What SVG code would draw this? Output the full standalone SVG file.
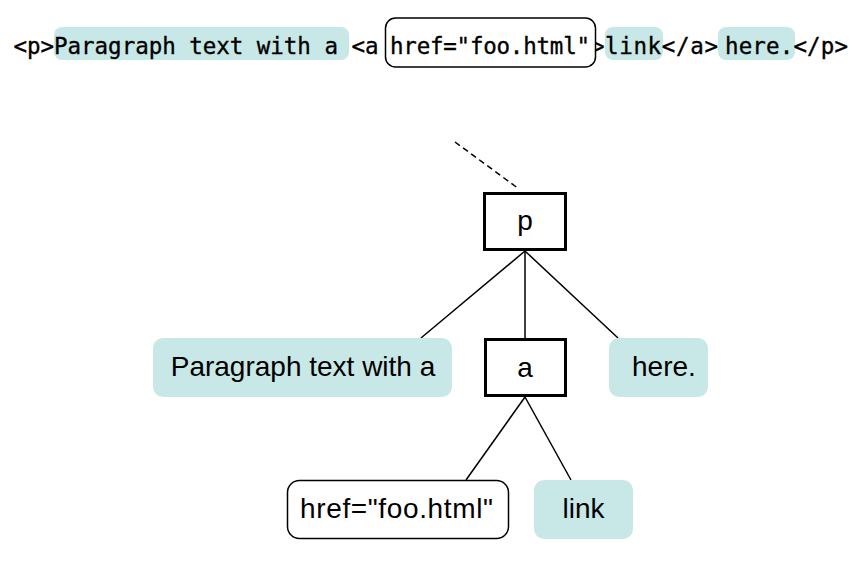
<svg xmlns="http://www.w3.org/2000/svg" width="860" height="578" viewBox="0 0 860 578">
<style>
.hl{fill:#c8e8e7}
.code{font-family:"DejaVu Sans Mono","Liberation Mono",monospace;font-size:22.5px;fill:#000;stroke:#000;stroke-width:0.35}
.lbl{font-family:"Liberation Sans",Arial,sans-serif;font-size:28px;fill:#000}
.el{fill:#fff;stroke:#000;stroke-width:3}
.attr{fill:#fff;stroke:#000;stroke-width:1.5}
.edge{stroke:#000;stroke-width:1.5;fill:none}
</style>
<rect width="860" height="578" fill="#fff"/>
<g id="source">
<rect class="hl" x="54" y="27" width="295" height="33" rx="8"/>
<rect class="hl" x="605" y="27" width="58" height="33" rx="8"/>
<rect class="hl" x="718" y="27" width="77" height="33" rx="8"/>
<text class="code" x="13.5" y="54" textLength="365" lengthAdjust="spacing">&lt;p&gt;Paragraph text with a &lt;a</text>
<text class="code" x="592.5" y="54" textLength="12" lengthAdjust="spacingAndGlyphs">&gt;</text>
<rect class="attr" x="385.5" y="18" width="210" height="49" rx="10"/>
<text class="code" x="390" y="54" textLength="200" lengthAdjust="spacing">href="foo.html"</text>
<text class="code" x="605" y="54" textLength="113" lengthAdjust="spacing">link&lt;/a&gt;</text>
<text class="code" x="725" y="54" textLength="123" lengthAdjust="spacing">here.&lt;/p&gt;</text>
</g>
<g id="connectors">
<line class="edge" x1="455" y1="142" x2="519" y2="189" stroke-dasharray="6,4"/>
<line class="edge" x1="525" y1="251" x2="421" y2="338"/>
<line class="edge" x1="525" y1="251" x2="525" y2="338"/>
<line class="edge" x1="525" y1="251" x2="618" y2="338"/>
<line class="edge" x1="525" y1="397" x2="466" y2="480"/>
<line class="edge" x1="525" y1="397" x2="571" y2="480"/>
</g>
<g id="node-p">
<rect class="el" x="484.5" y="193.5" width="81" height="56"/>
<text class="lbl" x="525" y="230" text-anchor="middle">p</text>
</g>
<g id="node-para-text">
<rect class="hl" x="153" y="338" width="299" height="59" rx="10"/>
<text class="lbl" x="303" y="376" text-anchor="middle">Paragraph text with a</text>
</g>
<g id="node-a">
<rect class="el" x="485.5" y="339.5" width="80" height="56"/>
<text class="lbl" x="525" y="377" text-anchor="middle">a</text>
</g>
<g id="node-here">
<rect class="hl" x="609" y="338" width="99" height="59" rx="10"/>
<text class="lbl" x="632" y="376">here.</text>
</g>
<g id="node-href">
<rect class="attr" x="287.5" y="480.5" width="221" height="58" rx="12"/>
<text class="lbl" x="300" y="518" textLength="193" lengthAdjust="spacing">href="foo.html"</text>
</g>
<g id="node-link">
<rect class="hl" x="534" y="480" width="99" height="59" rx="10"/>
<text class="lbl" x="583.5" y="518" text-anchor="middle">link</text>
</g>
</svg>
